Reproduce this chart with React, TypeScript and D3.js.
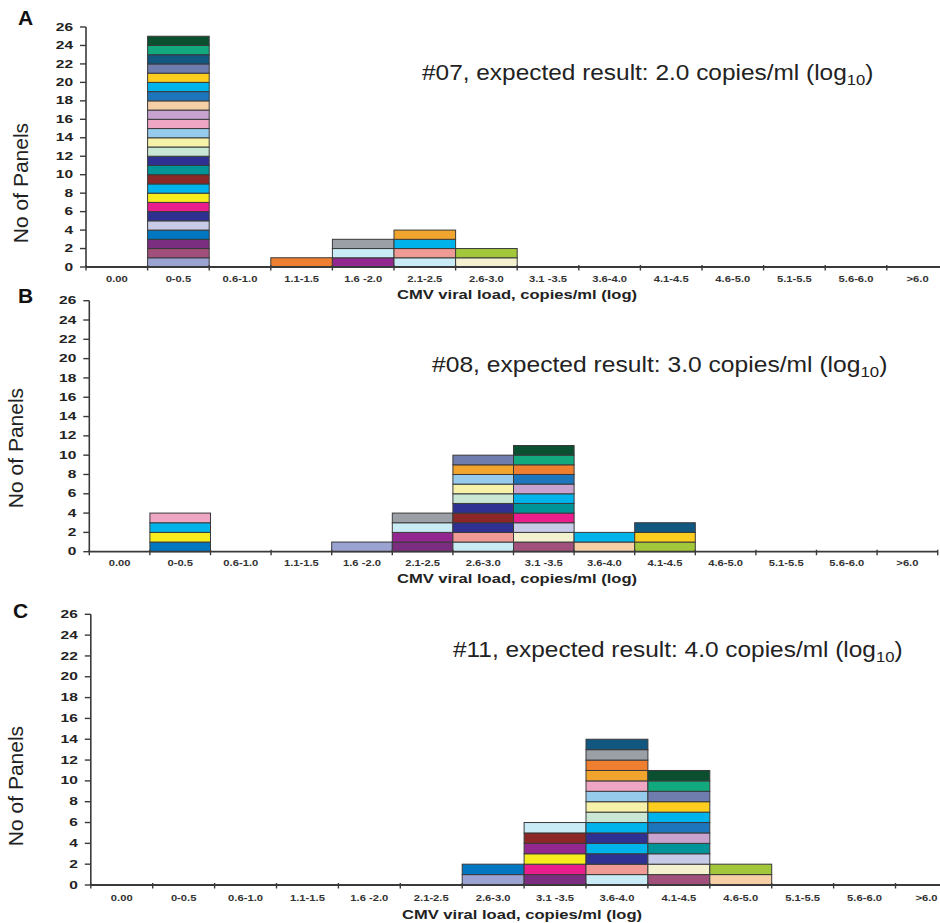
import React from "react";
import * as d3 from "d3";

// Viral-load bins shared by all three histograms
const CATEGORIES = [
  "0.00", "0-0.5", "0.6-1.0", "1.1-1.5", "1.6 -2.0", "2.1-2.5", "2.6-3.0",
  "3.1 -3.5", "3.6-4.0", "4.1-4.5", "4.6-5.0", "5.1-5.5", "5.6-6.0", ">6.0",
];

const Y_TICKS = [0, 2, 4, 6, 8, 10, 12, 14, 16, 18, 20, 22, 24, 26];

// One colour per participating laboratory panel
const PALETTE: Record<string, string> = {
  peri: "#9ba3d3", mauve: "#a0507a", plum: "#7b2d7f", blue: "#0077c0",
  lavender: "#c7cbe8", navy: "#2e3192", magenta: "#e91e8c", yellow: "#f7ec1e",
  cyan: "#00b3ea", maroon: "#8b2726", teal: "#009499", mint: "#c9e7d4",
  paleyellow: "#f6f2a9", skyblue: "#96cbec", pink: "#efa6c5", lilac: "#c8a3cf",
  peach: "#f6cfa7", midblue: "#1d75bc", gold: "#fccd1f", slate: "#6f7cae",
  petrol: "#11577f", jade: "#12a97e", forest: "#0a5030", orange: "#ef7f30",
  amber: "#f2a52e", gray: "#9aa0a6", iceblue: "#c9ebf5", violet: "#92278f",
  salmon: "#ef9a94", cream: "#f3f1cf", lime: "#a3c73a",
};

// Sample #07: reported results per bin, bottom to top, one entry per panel
const SAMPLE_07: Record<string, string[]> = {
  "0-0.5": [
    "peri", "mauve", "plum", "blue", "lavender", "navy", "magenta", "yellow",
    "cyan", "maroon", "teal", "navy", "mint", "paleyellow", "skyblue", "pink",
    "lilac", "peach", "midblue", "cyan", "gold", "slate", "petrol", "jade", "forest",
  ],
  "1.1-1.5": ["orange"],
  "1.6 -2.0": ["violet", "iceblue", "gray"],
  "2.1-2.5": ["iceblue", "salmon", "cyan", "amber"],
  "2.6-3.0": ["cream", "lime"],
};

// Sample #08
const SAMPLE_08: Record<string, string[]> = {
  "0-0.5": ["blue", "yellow", "cyan", "pink"],
  "1.6 -2.0": ["peri"],
  "2.1-2.5": ["plum", "violet", "iceblue", "gray"],
  "2.6-3.0": [
    "iceblue", "salmon", "navy", "maroon", "navy", "mint", "paleyellow",
    "skyblue", "amber", "slate",
  ],
  "3.1 -3.5": [
    "mauve", "cream", "lavender", "magenta", "teal", "cyan", "lilac",
    "midblue", "orange", "jade", "forest",
  ],
  "3.6-4.0": ["peach", "cyan"],
  "4.1-4.5": ["lime", "gold", "petrol"],
};

// Sample #11
const SAMPLE_11: Record<string, string[]> = {
  "2.6-3.0": ["peri", "blue"],
  "3.1 -3.5": ["plum", "magenta", "yellow", "violet", "maroon", "iceblue"],
  "3.6-4.0": [
    "iceblue", "salmon", "navy", "cyan", "navy", "cyan", "mint", "paleyellow",
    "skyblue", "pink", "amber", "orange", "gray", "petrol",
  ],
  "4.1-4.5": [
    "mauve", "cream", "lavender", "teal", "lilac", "midblue", "cyan", "gold",
    "slate", "jade", "forest",
  ],
  "4.6-5.0": ["peach", "lime"],
};

const TITLES = ["#07, expected result: 2.0 copies/ml (log", "#08, expected result: 3.0 copies/ml (log", "#11, expected result: 4.0 copies/ml (log"];
const LETTERS = ["A", "B", "C"];
const X_TITLE = "CMV viral load, copies/ml (log)";
const Y_TITLE = "No of Panels";

interface PanelLayout {
  x0: number; band: number; yBase: number; yTop: number;
  letterX: number; letterY: number; yTitleX: number; yTitleY: number;
  titleX: number; titleY: number; titleScale: number;
  xLabelY: number; xTitleX: number; xTitleY: number;
}

const LAYOUTS: PanelLayout[] = [
  { x0: 86, band: 61.6, yBase: 267, yTop: 27, letterX: 18, letterY: 25, yTitleX: 28, yTitleY: 183,
    titleX: 422, titleY: 80, titleScale: 1.11, xLabelY: 282, xTitleX: 517, xTitleY: 299 },
  { x0: 89.3, band: 60.6, yBase: 551.7, yTop: 300.7, letterX: 18, letterY: 303, yTitleX: 23, yTitleY: 448,
    titleX: 432, titleY: 372, titleScale: 1.12, xLabelY: 566, xTitleX: 517, xTitleY: 583 },
  { x0: 90.8, band: 61.9, yBase: 885, yTop: 614.3, letterX: 13, letterY: 618, yTitleX: 23, yTitleY: 786,
    titleX: 453, titleY: 657, titleScale: 1.11, xLabelY: 901, xTitleX: 522, xTitleY: 919 },
];

const SAMPLES = [SAMPLE_07, SAMPLE_08, SAMPLE_11];

const FONT = "'Liberation Sans', Arial, Helvetica, sans-serif";
const INK = "#222";
const AXIS = "#3a3a3a";

function Panel({ data, layout, title, letter }: {
  data: Record<string, string[]>; layout: PanelLayout; title: string; letter: string;
}) {
  const x = d3.scaleBand<string>()
    .domain(CATEGORIES)
    .range([layout.x0, layout.x0 + CATEGORIES.length * layout.band])
    .padding(0);
  const y = d3.scaleLinear().domain([0, 26]).range([layout.yBase, layout.yTop]);
  const xEnd = layout.x0 + CATEGORIES.length * layout.band;
  const boundaries = d3.range(CATEGORIES.length + 1).map((i) => layout.x0 + i * x.bandwidth());

  return (
    <g>
      <text x={layout.letterX} y={layout.letterY} fontFamily={FONT} fontWeight={700}
        fontSize={21} fill="#111">{letter}</text>

      <text transform={`translate(${layout.yTitleX},${layout.yTitleY}) rotate(-90)`}
        textAnchor="middle" fontFamily={FONT} fontSize={21} fill={INK}>{Y_TITLE}</text>

      <text transform={`translate(${layout.titleX},${layout.titleY}) scale(${layout.titleScale},1)`}
        fontFamily={FONT} fontSize={22} fill={INK}>
        {title}
        <tspan fontSize={15} dy={5}>10</tspan>
        <tspan dy={-5}>)</tspan>
      </text>

      {/* stacked bars: one cell per panel result */}
      {CATEGORIES.map((cat) =>
        (data[cat] || []).map((key, i) => (
          <rect key={`${cat}-${i}`} x={x(cat)} y={y(i + 1)} width={x.bandwidth()}
            height={y(i) - y(i + 1)} fill={PALETTE[key]} stroke={AXIS} strokeWidth={1} />
        ))
      )}

      {/* y axis */}
      <line x1={layout.x0} x2={layout.x0} y1={y(26)} y2={y(0)} stroke={AXIS} strokeWidth={1.6} />
      {Y_TICKS.map((t) => (
        <g key={t}>
          <line x1={layout.x0 - 6} x2={layout.x0} y1={y(t)} y2={y(t)} stroke={AXIS} strokeWidth={1.4} />
          <text transform={`translate(${layout.x0 - 13},${y(t)}) scale(1.55,1)`} dy="0.36em"
            textAnchor="end" fontFamily={FONT} fontWeight={700} fontSize={10} fill={INK}>{t}</text>
        </g>
      ))}

      {/* x axis */}
      <line x1={layout.x0} x2={xEnd} y1={y(0)} y2={y(0)} stroke={AXIS} strokeWidth={1.8} />
      {boundaries.map((b, i) => (
        <line key={i} x1={b} x2={b} y1={y(0) - 2} y2={y(0) + 3.5} stroke={AXIS} strokeWidth={1.4} />
      ))}
      {CATEGORIES.map((cat) => (
        <text key={cat} transform={`translate(${(x(cat) as number) + x.bandwidth() / 2},${layout.xLabelY}) scale(1.32,1)`}
          textAnchor="middle" fontFamily={FONT} fontWeight={700} fontSize={8.5} fill="#333">{cat}</text>
      ))}
      <text transform={`translate(${layout.xTitleX},${layout.xTitleY}) scale(1.38,1)`}
        textAnchor="middle" fontFamily={FONT} fontWeight={700} fontSize={12} fill={INK}>{X_TITLE}</text>
    </g>
  );
}

export default function App() {
  return (
    <svg width={940} height={923} style={{ position: "absolute", left: 0, top: 0, background: "#fff" }}>
      <rect width={940} height={923} fill="#fff" />
      {SAMPLES.map((data, i) => (
        <Panel key={i} data={data} layout={LAYOUTS[i]} title={TITLES[i]} letter={LETTERS[i]} />
      ))}
    </svg>
  );
}
